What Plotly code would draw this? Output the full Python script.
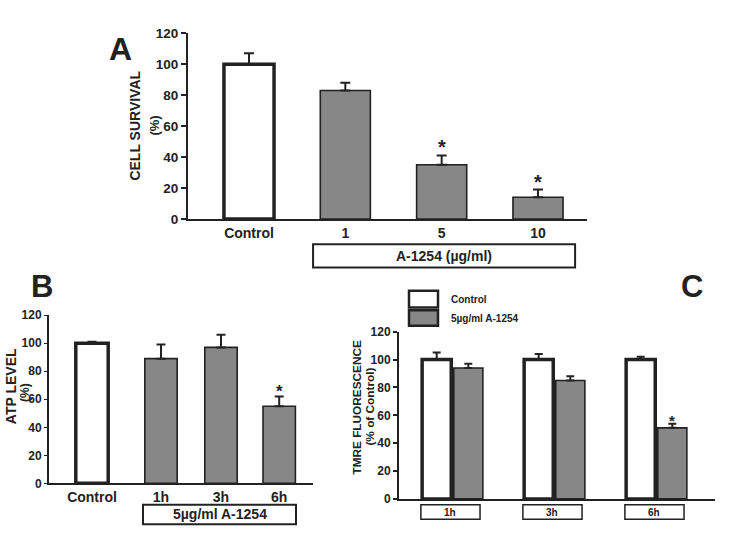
import plotly.graph_objects as go

W, H = 729, 539
FONT = "Liberation Sans, Arial, sans-serif"
DARK = "#222222"
GRAY = "#878787"

# ---------------- data ----------------
a_labels = ["Control", "1", "5", "10"]
a_values = [100, 83, 35, 14]
a_errors = [7, 5, 6, 5]
a_signif = [False, False, True, True]

b_labels = ["Control", "1h", "3h", "6h"]
b_values = [100, 89, 97, 55]
b_errors = [1, 10, 9, 7]
b_signif = [False, False, False, True]

c_groups = ["1h", "3h", "6h"]
c_control = [100, 100, 100]
c_control_err = [5, 4, 2]
c_treated = [94, 85, 51]
c_treated_err = [3, 3, 3]
c_signif = [False, False, True]

a_yticks = [0, 20, 40, 60, 80, 100, 120]

# ---------------- layout helpers ----------------
def px(x):
    return x / W

def py(y):
    return 1 - y / H

fig = go.Figure()

# Panel A
a_pos = list(range(len(a_labels)))
fig.add_trace(go.Bar(
    x=a_pos, y=a_values, width=0.52,
    marker=dict(color=["white"] + [GRAY] * 3,
                line=dict(color=DARK, width=[3.5, 1.6, 1.6, 1.6])),
    error_y=dict(type="data", array=a_errors, arrayminus=[0] * 4, symmetric=False,
                 color=DARK, thickness=2, width=5),
    xaxis="x", yaxis="y", showlegend=False))

# Panel B
b_pos = [0, 1.15, 2.15, 3.12]
fig.add_trace(go.Bar(
    x=b_pos, y=b_values, width=0.54,
    marker=dict(color=["white"] + [GRAY] * 3,
                line=dict(color=DARK, width=[3.5, 1.6, 1.6, 1.6])),
    error_y=dict(type="data", array=b_errors, arrayminus=[0] * 4, symmetric=False,
                 color=DARK, thickness=2, width=4.5),
    xaxis="x2", yaxis="y2", showlegend=False))

# Panel C
c_pos = list(range(len(c_groups)))
fig.add_trace(go.Bar(
    x=c_pos, y=c_control, name="Control",
    marker=dict(color="white", line=dict(color=DARK, width=3.5)),
    error_y=dict(type="data", array=c_control_err, arrayminus=[0] * 3, symmetric=False,
                 color=DARK, thickness=2, width=4),
    xaxis="x3", yaxis="y3", showlegend=False))
fig.add_trace(go.Bar(
    x=c_pos, y=c_treated, name="5µg/ml A-1254",
    marker=dict(color=GRAY, line=dict(color=DARK, width=1.6)),
    error_y=dict(type="data", array=c_treated_err, arrayminus=[0] * 3, symmetric=False,
                 color=DARK, thickness=2, width=4),
    xaxis="x3", yaxis="y3", showlegend=False))

tickfont = dict(family=FONT, size=12, color=DARK, weight="bold")
axis_common = dict(showline=True, linecolor=DARK, linewidth=2, showgrid=False,
                   zeroline=False, fixedrange=True)

# unit sizes in px
a_unit = (538 - 249) / 3
b_unit = 60
c_unit = 102

fig.update_layout(
    width=W, height=H, autosize=False,
    margin=dict(l=0, r=0, t=0, b=0),
    paper_bgcolor="white", plot_bgcolor="white",
    barmode="group", bargap=0.38, bargroupgap=0.08,
    xaxis=dict(axis_common, domain=[px(188), px(587)],
               range=[(188 - 249) / a_unit, (587 - 249) / a_unit],
               tickvals=a_pos, ticktext=a_labels, ticks="",
               tickfont=dict(tickfont, size=14), anchor="y"),
    yaxis=dict(axis_common, domain=[py(218), py(27)], range=[0, 120],
               tickvals=a_yticks, ticks="outside", ticklen=5, tickwidth=1.5,
               tickcolor=DARK, tickfont=dict(tickfont, size=13.5), anchor="x"),
    xaxis2=dict(axis_common, domain=[px(49), px(313)],
                range=[(49 - 92) / b_unit, (313 - 92) / b_unit],
                tickvals=b_pos, ticktext=b_labels, ticks="",
                tickfont=dict(tickfont, size=14), anchor="y2"),
    yaxis2=dict(axis_common, domain=[py(490), py(317)], range=[0, 120],
                tickvals=a_yticks, ticks="outside", ticklen=3, tickwidth=1,
                tickcolor=DARK, tickfont=dict(tickfont, size=12), anchor="x2"),
    xaxis3=dict(axis_common, domain=[px(399), px(715)],
                range=[(399 - 452.5) / c_unit, (715 - 452.5) / c_unit],
                showticklabels=False, ticks="", anchor="y3"),
    yaxis3=dict(axis_common, domain=[py(506), py(334)], range=[0, 120],
                tickvals=a_yticks, ticks="outside", ticklen=4, tickwidth=1.5,
                tickcolor=DARK, tickfont=dict(tickfont, size=12), anchor="x3"),
)

ann = []
shapes = []

def bold(size):
    return dict(family=FONT, size=size, color=DARK, weight="bold")

def note(text, x, y, size, xref="paper", yref="paper", **kw):
    d = dict(text=text, x=x, y=y, xref=xref, yref=yref, showarrow=False,
             xanchor="center", yanchor="middle", font=bold(size))
    d.update(kw)
    ann.append(d)

# panel letters
note("A", px(120), py(43), 32)
note("B", px(42), py(287), 31)
note("C", px(692), py(288), 31)

# axis titles
note("CELL SURVIVAL", px(135), py(122), 14, textangle=-90)
note("(%)", px(155), py(122), 13, textangle=-90)
note("ATP LEVEL", px(11), py(390), 14, textangle=-90)
note("(%)", px(25), py(397), 12, textangle=-90)
note("TMRE FLUORESCENCE", px(357), py(412), 11.8, textangle=-90)
note("(% of Control)", px(370), py(411), 11.8, textangle=-90)

# significance asterisks
for p, v, e, s in zip(a_pos, a_values, a_errors, a_signif):
    if s:
        note("*", p, v + e, 20, xref="x", yref="y", yshift=8)
for p, v, e, s in zip(b_pos, b_values, b_errors, b_signif):
    if s:
        note("*", p, v + e, 17, xref="x2", yref="y2", yshift=5)
c_half = (1 - 0.38) / 4
for p, v, e, s in zip(c_pos, c_treated, c_treated_err, c_signif):
    if s:
        note("*", p + c_half, v + e, 15, xref="x3", yref="y3", yshift=3)

# bracket boxes
shapes.append(dict(type="rect", xref="x", yref="paper", x0=0.665, x1=3.385,
                   y0=py(268), y1=py(244), line=dict(color=DARK, width=2), fillcolor="white"))
note("A-1254 (µg/ml)", (0.665 + 3.385) / 2, py(256), 14, xref="x")

shapes.append(dict(type="rect", xref="x2", yref="paper", x0=(143 - 92) / b_unit,
                   x1=(296 - 92) / b_unit, y0=py(532), y1=py(512),
                   line=dict(color=DARK, width=2), fillcolor="white"))
note("5µg/ml A-1254", ((143 - 92) + (296 - 92)) / 2 / b_unit, py(522), 14, xref="x2")

for p, g in zip(c_pos, c_groups):
    shapes.append(dict(type="rect", xref="x3", yref="paper", x0=p - 0.31, x1=p + 0.27,
                       y0=py(527), y1=py(512), line=dict(color=DARK, width=1.5),
                       fillcolor="white"))
    note(g, p - 0.02, py(519.5), 10, xref="x3")

# legend for C
shapes.append(dict(type="rect", xref="paper", yref="paper", x0=px(409), x1=px(438),
                   y0=py(309), y1=py(292), line=dict(color=DARK, width=2.5), fillcolor="white"))
shapes.append(dict(type="rect", xref="paper", yref="paper", x0=px(409), x1=px(438),
                   y0=py(328), y1=py(312), line=dict(color=DARK, width=2.5), fillcolor=GRAY))
note("Control", px(449), py(301), 10, xanchor="left")
note("5µg/ml A-1254", px(449), py(320), 10, xanchor="left")

fig.update_layout(annotations=ann, shapes=shapes)
fig.write_html("out.html", config={"displayModeBar": False},
               post_script="document.body.style.margin='0';document.body.style.overflow='hidden';")
